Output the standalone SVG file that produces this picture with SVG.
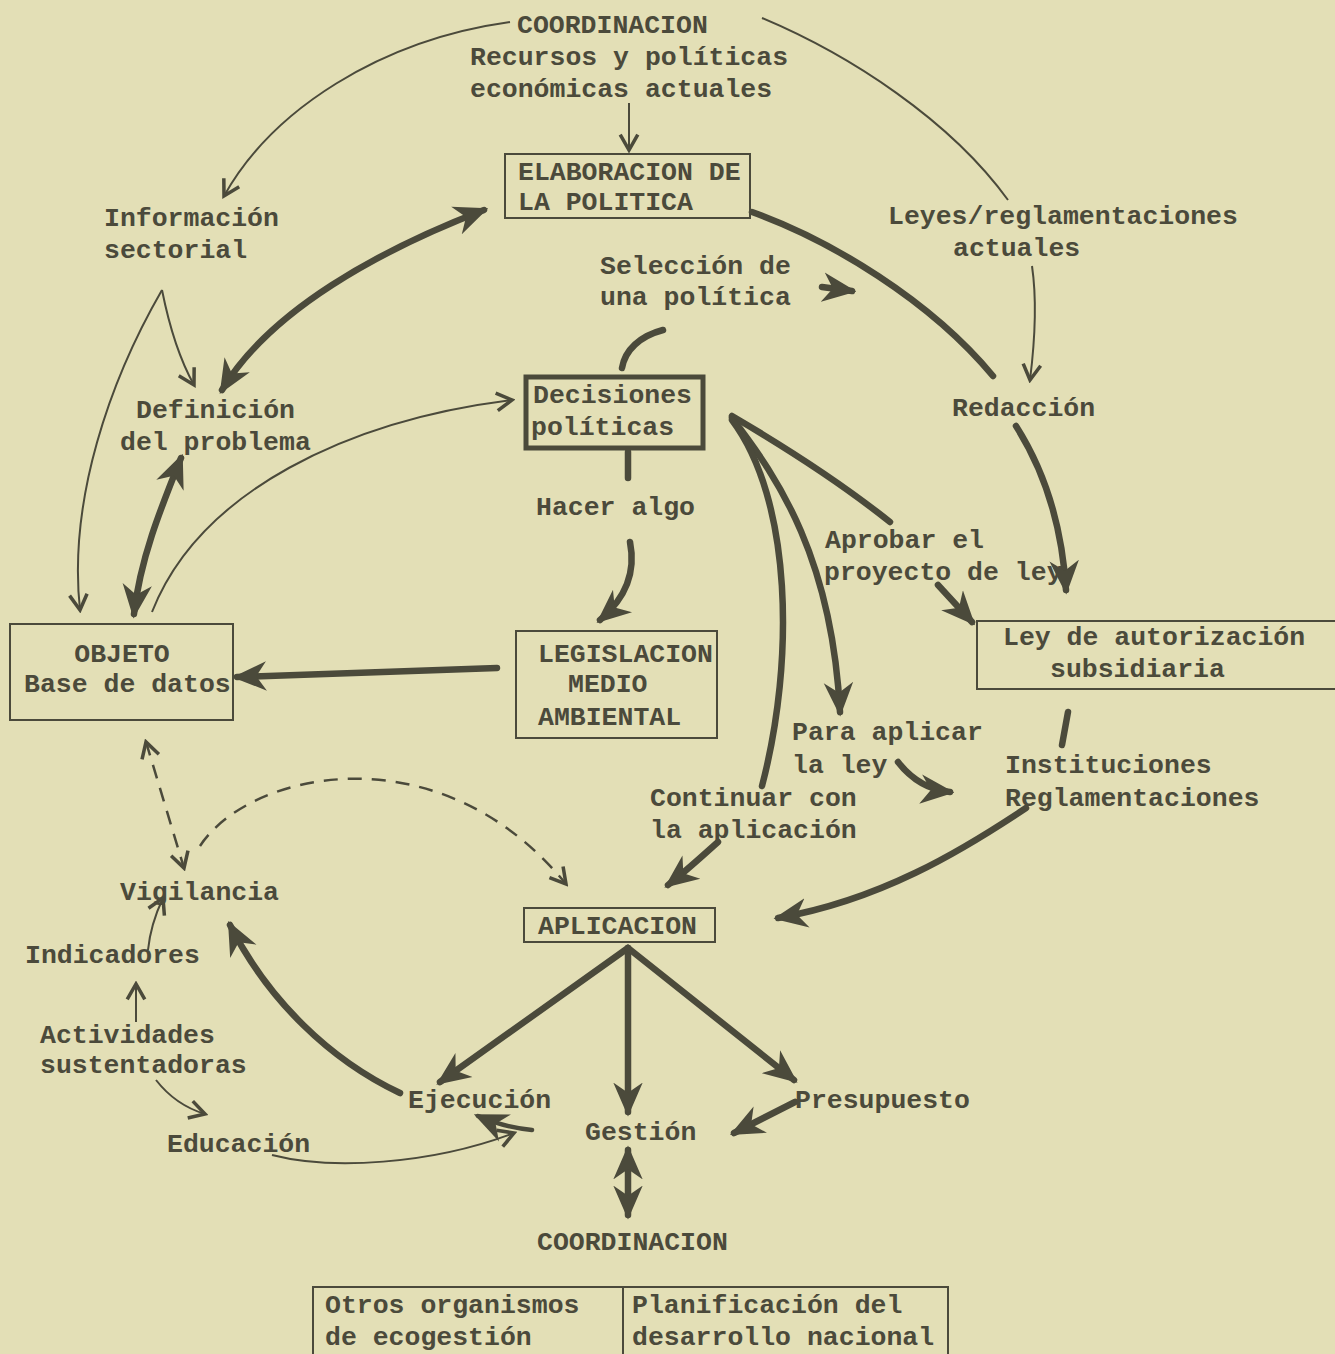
<svg xmlns="http://www.w3.org/2000/svg" width="1335" height="1354" viewBox="0 0 1335 1354">
<style>
text{font-family:"Liberation Mono","DejaVu Sans Mono",monospace;font-size:26.5px;font-weight:bold;fill:#4b4a3b}
.box{fill:none;stroke:#4b4a3b;stroke-width:2}
.thick{fill:none;stroke:#4b4a3b;stroke-width:6.5;stroke-linecap:round}
.med{fill:none;stroke:#4b4a3b;stroke-width:4.5;stroke-linecap:round}
.thin{fill:none;stroke:#4b4a3b;stroke-width:2}
.dash{fill:none;stroke:#4b4a3b;stroke-width:2.5;stroke-dasharray:14 10}
</style>
<defs>
<marker id="ah" viewBox="0 0 30 30" markerWidth="34" markerHeight="34" markerUnits="userSpaceOnUse" refX="26" refY="15" orient="auto-start-reverse">
<path d="M0,2 L30,15 L0,28 L9,15 z" fill="#4b4a3b"/>
</marker>
<marker id="at" viewBox="0 0 20 20" markerWidth="22" markerHeight="22" markerUnits="userSpaceOnUse" refX="17" refY="10" orient="auto-start-reverse">
<path d="M3,2 L17,10 L3,18" fill="none" stroke="#4b4a3b" stroke-width="3.2"/>
</marker>
</defs>
<rect width="1335" height="1354" fill="#e3dfb6"/>

<g id="connectors">
<path class="thin" d="M510 22 C380 40 272 110 224 196" marker-end="url(#at)"/>
<path class="thin" d="M762 18 C850 55 950 120 1008 200"/>
<path class="thin" d="M629 103 L629 150" marker-end="url(#at)"/>
<path class="thin" d="M1032 266 C1037 300 1035 340 1030 380" marker-end="url(#at)"/>
<path class="thick" d="M752 212 C830 240 930 300 993 376"/>
<path class="thick" d="M484 210 C380 250 270 310 222 390" marker-start="url(#ah)" marker-end="url(#ah)"/>
<path class="thin" d="M162 290 C170 330 180 360 194 385" marker-end="url(#at)"/>
<path class="thin" d="M162 290 C110 380 68 500 80 610" marker-end="url(#at)"/>
<path class="thick" d="M181 458 C160 510 140 560 134 614" marker-start="url(#ah)" marker-end="url(#ah)"/>
<path class="thin" d="M152 612 C200 490 350 420 512 400" marker-end="url(#at)"/>
<path class="thick" d="M822 287 L852 291" marker-end="url(#ah)"/>
<path class="thick" d="M622 368 C625 350 640 336 663 330"/>
<path class="thick" d="M628 452 L628 478"/>
<path class="thick" d="M630 542 C636 572 626 598 600 620" marker-end="url(#ah)"/>
<path class="thick" d="M497 668 L237 677" marker-end="url(#ah)"/>
<path class="thick" d="M732 416 C790 450 850 490 890 522"/>
<path class="thick" d="M938 585 L972 622" marker-end="url(#ah)"/>
<path class="thick" d="M1016 426 C1044 470 1062 525 1066 590" marker-end="url(#ah)"/>
<path class="thick" d="M732 418 C780 480 832 560 840 712" marker-end="url(#ah)"/>
<path class="thick" d="M732 420 C792 500 795 660 762 786"/>
<path class="thick" d="M718 842 C700 858 685 872 668 885" marker-end="url(#ah)"/>
<path class="thick" d="M898 762 C912 780 930 790 950 792" marker-end="url(#ah)"/>
<path class="thick" d="M1068 712 L1062 745"/>
<path class="thick" d="M1026 808 C960 852 880 900 778 918" marker-end="url(#ah)"/>
<path class="dash" d="M146 742 L184 868" marker-start="url(#at)" marker-end="url(#at)"/>
<path class="dash" d="M200 846 C250 770 440 730 566 884" marker-end="url(#at)"/>
<path class="thick" d="M628 948 L440 1082" marker-end="url(#ah)"/>
<path class="thick" d="M628 948 L628 1112" marker-end="url(#ah)"/>
<path class="thick" d="M628 948 L794 1080" marker-end="url(#ah)"/>
<path class="thick" d="M400 1093 C330 1060 268 1000 230 925" marker-end="url(#ah)"/>
<path class="thin" d="M148 950 C150 930 155 915 163 898" marker-end="url(#at)"/>
<path class="thin" d="M136 1022 L136 984" marker-end="url(#at)"/>
<path class="thin" d="M156 1080 C170 1098 185 1108 205 1114" marker-end="url(#at)"/>
<path class="thin" d="M272 1155 C330 1170 430 1165 514 1133" marker-end="url(#at)"/>
<path class="med" d="M532 1130 C512 1128 496 1124 478 1116" marker-end="url(#ah)"/>
<path class="thick" d="M795 1102 L734 1133" marker-end="url(#ah)"/>
<path class="thick" d="M628 1150 L628 1215" marker-start="url(#ah)" marker-end="url(#ah)"/>
</g>

<g id="coordinacion-top">
<text x="517" y="33">COORDINACION</text>
<text x="470" y="65">Recursos y políticas</text>
<text x="470" y="97">económicas actuales</text>
</g>
<g id="elaboracion">
<rect class="box" x="505" y="154" width="245" height="64"/>
<text x="518" y="180">ELABORACION DE</text>
<text x="518" y="210">LA POLITICA</text>
</g>
<g id="informacion">
<text x="104" y="226">Información</text>
<text x="104" y="258">sectorial</text>
</g>
<g id="leyes">
<text x="888" y="224">Leyes/reglamentaciones</text>
<text x="953" y="256">actuales</text>
</g>
<g id="seleccion">
<text x="600" y="274">Selección de</text>
<text x="600" y="305">una política</text>
</g>
<g id="definicion">
<text x="136" y="418">Definición</text>
<text x="120" y="450">del problema</text>
</g>
<g id="decisiones">
<rect x="526" y="377" width="177" height="71" fill="none" stroke="#4b4a3b" stroke-width="5"/>
<text x="533" y="403">Decisiones</text>
<text x="531" y="435">políticas</text>
</g>
<g id="redaccion"><text x="952" y="416">Redacción</text></g>
<g id="hacer"><text x="536" y="515">Hacer algo</text></g>
<g id="aprobar">
<text x="825" y="548">Aprobar el</text>
<text x="824" y="580">proyecto de ley</text>
</g>
<g id="ley-autorizacion">
<rect class="box" x="977" y="621" width="370" height="68"/>
<text x="1003" y="645">Ley de autorización</text>
<text x="1050" y="677">subsidiaria</text>
</g>
<g id="objeto">
<rect class="box" x="10" y="624" width="223" height="96"/>
<text x="122" y="662" text-anchor="middle">OBJETO</text>
<text x="24" y="692">Base de datos</text>
</g>
<g id="legislacion">
<rect class="box" x="516" y="631" width="201" height="107"/>
<text x="538" y="662">LEGISLACION</text>
<text x="568" y="692">MEDIO</text>
<text x="538" y="725">AMBIENTAL</text>
</g>
<g id="para-aplicar">
<text x="792" y="740">Para aplicar</text>
<text x="792" y="773">la ley</text>
</g>
<g id="instituciones">
<text x="1005" y="773">Instituciones</text>
<text x="1005" y="806">Reglamentaciones</text>
</g>
<g id="continuar">
<text x="650" y="806">Continuar con</text>
<text x="650" y="838">la aplicación</text>
</g>
<g id="vigilancia"><text x="120" y="900">Vigilancia</text></g>
<g id="aplicacion">
<rect class="box" x="524" y="908" width="191" height="34"/>
<text x="538" y="934">APLICACION</text>
</g>
<g id="indicadores"><text x="25" y="963">Indicadores</text></g>
<g id="actividades">
<text x="40" y="1043">Actividades</text>
<text x="40" y="1073">sustentadoras</text>
</g>
<g id="ejecucion"><text x="408" y="1108">Ejecución</text></g>
<g id="presupuesto"><text x="795" y="1108">Presupuesto</text></g>
<g id="educacion"><text x="167" y="1152">Educación</text></g>
<g id="gestion"><text x="585" y="1140">Gestión</text></g>
<g id="coordinacion-bottom"><text x="537" y="1250">COORDINACION</text></g>
<g id="tabla">
<rect class="box" x="313" y="1287" width="635" height="80"/>
<line class="box" x1="623" y1="1287" x2="623" y2="1354"/>
<text x="325" y="1313">Otros organismos</text>
<text x="325" y="1345">de ecogestión</text>
<text x="632" y="1313">Planificación del</text>
<text x="632" y="1345">desarrollo nacional</text>
</g>
</svg>
